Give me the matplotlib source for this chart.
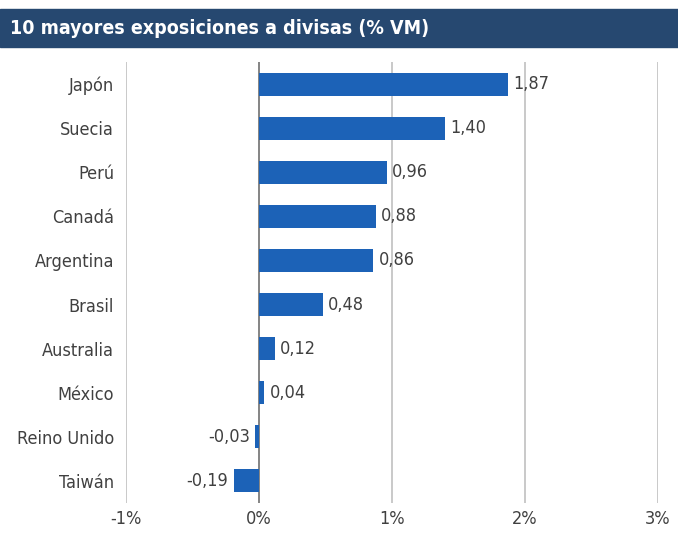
import matplotlib.pyplot as plt
from matplotlib.patches import Rectangle

paises = ["Japón", "Suecia", "Perú", "Canadá", "Argentina", "Brasil",
          "Australia", "México", "Reino Unido", "Taiwán"]
valores = [1.87, 1.40, 0.96, 0.88, 0.86, 0.48, 0.12, 0.04, -0.03, -0.19]
xticks = [-1, 0, 1, 2, 3]
xlabels = ["-1%", "0%", "1%", "2%", "3%"]

plt.rcParams['font.family'] = ['DejaVu Sans']
plt.rcParams['font.stretch'] = 'condensed'

fig = plt.figure(figsize=(6.78, 5.33), dpi=100)
ax = fig.add_axes([126/678, 1 - 503/533, 532/678, 441/533])

# barra de título
fig.patches.append(Rectangle((0, 1 - 47/533), 1, 38/533, transform=fig.transFigure,
                             color="#264870", zorder=0))
fig.text(10/678, 1 - 28/533, "10 mayores exposiciones a divisas (% VM)", color="white",
         fontsize=14, fontweight="bold", va="center", ha="left")

gris = "#404040"
pos = list(range(len(paises)))
ax.barh(pos, valores, height=0.52, color="#1c62b7", zorder=3)
for y, v in zip(pos, valores):
    txt = f"{v:.2f}".replace(".", ",")
    if v >= 0:
        ax.text(v + 0.04, y, txt, va="center", ha="left", fontsize=13, color=gris)
    else:
        ax.text(v - 0.04, y, txt, va="center", ha="right", fontsize=13, color=gris)

ax.set_xlim(-1, 3)
ax.set_ylim(9.5, -0.5)
ax.set_yticks(pos)
ax.set_yticklabels(paises, fontsize=13, color=gris)
ax.set_xticks(xticks)
ax.set_xticklabels(xlabels, fontsize=13, color=gris)
ax.tick_params(axis="y", length=0, pad=8.5)
ax.tick_params(axis="x", length=0, pad=5)
for x in xticks:
    ax.axvline(x, color="#707070" if x == 0 else "#c0c0c0", lw=1.2, zorder=2)
for s in ax.spines.values():
    s.set_visible(False)

fig.savefig("out.png", dpi=100)
